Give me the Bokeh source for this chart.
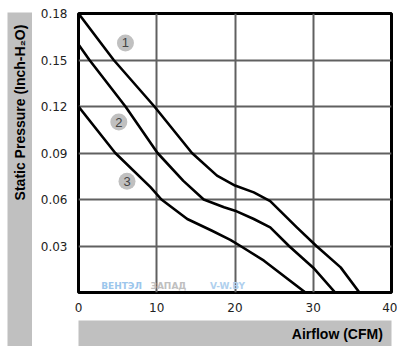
from math import pi
from bokeh.plotting import figure
from bokeh.layouts import row, column
from bokeh.models import FixedTicker
from bokeh.core.properties import value
from bokeh.embed import file_html
from bokeh.resources import INLINE

# ---- data ----
curve1_airflow = [0, 4.5, 9.7, 14.5, 17.7, 20.0, 22.4, 24.5, 27.9, 30.4, 33.5, 35.9]
curve1_pressure = [0.18, 0.15, 0.12, 0.09, 0.0754, 0.069, 0.0646, 0.059, 0.042, 0.03, 0.0162, 0.0]

curve2_airflow = [0, 1.4, 6.0, 10.1, 13.4, 16.0, 18.6, 20.0, 22.4, 24.5, 26.9, 30.0, 32.8]
curve2_pressure = [0.16, 0.15, 0.12, 0.09, 0.072, 0.06, 0.055, 0.0528, 0.0474, 0.042, 0.03, 0.016, 0.0]

curve3_airflow = [0, 4.7, 9.2, 10.6, 13.9, 17.0, 19.4, 20.7, 23.7, 29.0]
curve3_pressure = [0.12, 0.09, 0.068, 0.06, 0.0474, 0.040, 0.034, 0.03, 0.0205, 0.0]

badge_names = ["1", "2", "3"]
badge_airflow = [6.0, 5.15, 6.2]
badge_pressure = [0.161, 0.110, 0.0718]

x_ticks = [0, 10, 20, 30, 40]
x_tick_labels = ["0", "10", "20", "30", "40"]
y_ticks = [0.03, 0.06, 0.09, 0.12, 0.15, 0.18]
y_tick_labels = ["0.03", "0.06", "0.09", "0.12", "0.15", "0.18"]
x_grid = [10, 20, 30]
y_grid = [0.03, 0.06, 0.09, 0.12, 0.15]

x_title = "Airflow (CFM)"
y_title = "Static Pressure (Inch-H\u2082O)"
watermark = ["ВЕНТЭЛ", "ЗАПАД", "V-W.BY"]

GRAY = "#c0c0c0"

# ---- main chart ----
chart = figure(width=365, height=320, x_range=(0, 40), y_range=(0, 0.18),
               output_backend="svg", toolbar_location=None,
               min_border_left=46, min_border_right=6,
               min_border_top=13, min_border_bottom=28)
chart.background_fill_color = "white"
chart.border_fill_color = "white"
chart.outline_line_color = "black"
chart.outline_line_width = 3

for ax in (chart.xaxis[0], chart.yaxis[0]):
    ax.axis_line_color = None
    ax.major_tick_line_color = None
    ax.minor_tick_line_color = None
    ax.major_label_text_font = "DejaVu Sans"
    ax.major_label_text_font_size = "12px"
    ax.major_label_text_color = "#222222"

chart.xaxis[0].ticker = FixedTicker(ticks=x_ticks)
chart.xaxis[0].major_label_overrides = dict(zip(x_ticks, x_tick_labels))
chart.xaxis[0].major_label_standoff = 4
chart.yaxis[0].ticker = FixedTicker(ticks=y_ticks)
chart.yaxis[0].major_label_overrides = dict(zip(y_ticks, y_tick_labels))
chart.yaxis[0].major_label_standoff = 5

chart.xgrid.ticker = FixedTicker(ticks=x_grid)
chart.ygrid.ticker = FixedTicker(ticks=y_grid)
for g in (chart.xgrid[0], chart.ygrid[0]):
    g.grid_line_color = "#606060"
    g.grid_line_width = 2

# faint watermark near the bottom edge
chart.text([2.9, 9.2, 16.8], [0.0012, 0.0012, 0.0012], text=watermark,
           text_align="left", text_baseline="bottom",
           text_font=value("DejaVu Sans"), text_font_style="bold",
           text_font_size="9px", text_color=["#9cc6ec", "#c0c0c0", "#b0d0ee"])

for xs, ys in ((curve1_airflow, curve1_pressure),
               (curve2_airflow, curve2_pressure),
               (curve3_airflow, curve3_pressure)):
    chart.line(xs, ys, line_color="black", line_width=2.6, line_join="round")

chart.scatter(badge_airflow, badge_pressure, size=17, fill_color=GRAY, line_color=None)
chart.text(badge_airflow, badge_pressure, text=badge_names, text_align="center",
           text_baseline="middle", text_font=value("Liberation Sans"),
           text_font_size="13px", text_color="#444444")

# ---- left gray strip with the y title ----
left = figure(width=32, height=346, x_range=(0, 25), y_range=(0, 334),
              output_backend="svg", toolbar_location=None,
              x_axis_type=None, y_axis_type=None,
              min_border_left=7, min_border_right=0,
              min_border_top=12, min_border_bottom=0)
left.background_fill_color = GRAY
left.border_fill_color = "white"
left.outline_line_color = None
left.grid.visible = False
left.text([12], [234], text=[y_title], angle=pi / 2, text_align="center",
          text_baseline="middle", text_font=value("Liberation Sans"),
          text_font_style="bold", text_font_size="14px", text_color="black")

# ---- bottom gray strip with the x title ----
bottom = figure(width=365, height=26, x_range=(0, 361), y_range=(0, 26),
                output_backend="svg", toolbar_location=None,
                x_axis_type=None, y_axis_type=None,
                min_border_left=0, min_border_right=4,
                min_border_top=0, min_border_bottom=0)
bottom.background_fill_color = GRAY
bottom.border_fill_color = "white"
bottom.outline_line_color = None
bottom.grid.visible = False
bottom.text([351], [13], text=[x_title], text_align="right",
            text_baseline="middle", text_font=value("Liberation Sans"),
            text_font_style="bold", text_font_size="14px", text_color="black")

p = row(left, column(chart, bottom, spacing=0), spacing=0)

open("out.html", "w").write(file_html(p, INLINE))
